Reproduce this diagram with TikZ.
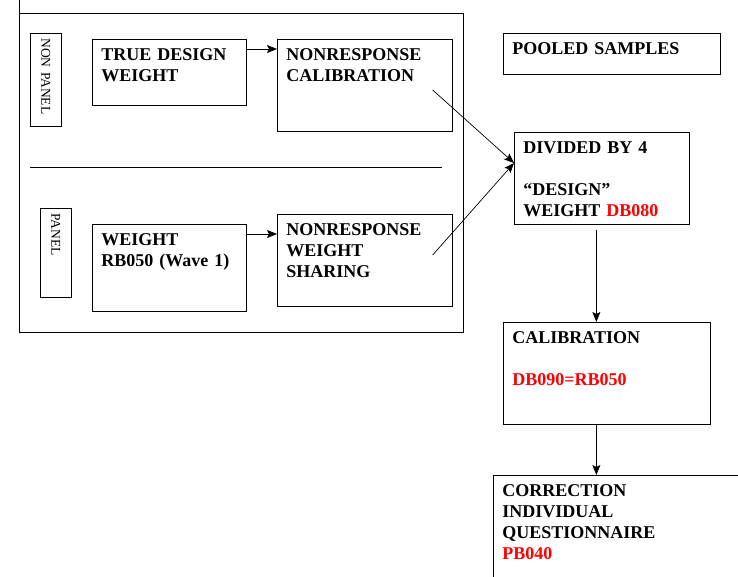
\documentclass[tikz,border=0pt]{standalone}
\usepackage{fontspec}
\setmainfont{Liberation Serif}
\usetikzlibrary{arrows.meta,calc,positioning}

\begin{document}
\begin{tikzpicture}
    [x=1pt, y=-1pt, line width=0.7pt, >={Stealth[length=10pt,width=8pt,inset=2pt]},
    stage/.style={draw, anchor=north west, align=left, inner xsep=9pt,
      inner ysep=0pt, text height=21pt,
      font=\fontsize{18}{21}\selectfont\bfseries},
    tag/.style={draw, rotate=-90, anchor=south west, align=left,
      inner xsep=5pt, inner ysep=0pt, minimum height=31pt,
      font=\fontsize{13.5}{16}\selectfont}]

  \useasboundingbox (0,0) rectangle (738,577);
  \clip (0,0) rectangle (738,577);

  % panel / non panel frame
  \draw (19.5,0) -- (19.5,332) -- (463,332) -- (463,13) -- (19.5,13);
  \draw (30,167) -- (442,167);

  \node[tag, text width=83pt] (nonpanel) at (30,33) {NON PANEL};
  \node[tag, text width=79pt] (panel) at (40,208) {PANEL};

  \node[stage, text width=136pt, text depth=45pt] (truew) at (92,39) {TRUE DESIGN\\WEIGHT};
  \node[stage, text width=157pt, text depth=71pt] (nrcal) at (277,39) {NONRESPONSE\\CALIBRATION};
  \node[stage, text width=136pt, text depth=66pt] (wave) at (92,224) {WEIGHT\\RB050 (Wave 1)};
  \node[stage, text width=157pt, text depth=71pt] (share) at (277,214) {NONRESPONSE\\WEIGHT\\SHARING};

  % pooled samples
  \node[stage, text width=199pt, text depth=20pt] (pooled) at (503,33) {POOLED SAMPLES};
  \node[stage, text width=157pt, text depth=71pt] (divided) at (514,132)
    {DIVIDED BY 4\\[21pt]“DESIGN”\\WEIGHT \textcolor{red}{DB080}};
  \node[stage, text width=189pt, text depth=81pt] (calib) at (503,322)
    {CALIBRATION\\[21pt]\textcolor{red}{DB090=RB050}};
  \node[stage, text width=249pt, text depth=104pt] (correct) at (493,475)
    {CORRECTION\\INDIVIDUAL\\QUESTIONNAIRE\\\textcolor{red}{PB040}};

  \draw[->] ([yshift=-10pt]truew.north east) -- ([yshift=-10pt]nrcal.north west);
  \draw[->] ([yshift=-10pt]wave.north east) -- ([yshift=-10pt]wave.north east -| share.west);
  \draw[->] ([xshift=-20pt,yshift=-51pt]nrcal.north east) -- ([yshift=-31pt]divided.north west);
  \draw[->] ([xshift=-20pt,yshift=-41pt]share.north east) -- ([yshift=-31pt]divided.north west);
  \draw[->] ([xshift=-5.5pt,yshift=-5pt]divided.south) -- ([xshift=-5.5pt]divided.south |- calib.north);
  \draw[->] ([xshift=-10.5pt]calib.south) -- ([xshift=-10.5pt]calib.south |- correct.north);

\end{tikzpicture}
\end{document}
